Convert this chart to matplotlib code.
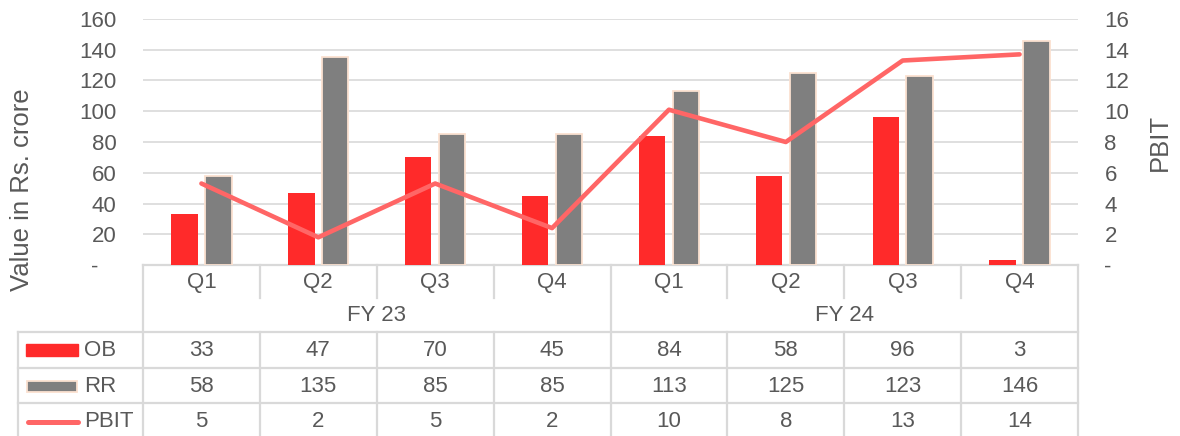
import numpy as np
import matplotlib.pyplot as plt
from matplotlib.patches import Rectangle
from matplotlib.ticker import FuncFormatter

plt.rcParams['font.family'] = ['Liberation Sans', 'DejaVu Sans']

# chart data
quarters = ['Q1', 'Q2', 'Q3', 'Q4', 'Q1', 'Q2', 'Q3', 'Q4']
years = ['FY 23', 'FY 24']
ob = [33, 47, 70, 45, 84, 58, 96, 3]
rr = [58, 135, 85, 85, 113, 125, 123, 146]
pbit = [5.3, 1.8, 5.3, 2.4, 10.1, 8.0, 13.3, 13.7]
pbit_table = [5, 2, 5, 2, 10, 8, 13, 14]

c_ob = '#FF2A2A'
c_rr = '#7F7F7F'
c_rr_edge = '#FBE1D0'
c_pbit = '#FF6666'
c_grid = '#D9D9D9'
c_text = '#595959'

W, H = 1180, 436
left, right, top, bottom = 143, 1078, 19, 265
n = len(quarters)
cw = (right - left) / n

fig = plt.figure(figsize=(W / 100, H / 100), dpi=100)

# overlay in pixel coordinates for the data table
ov = fig.add_axes([0, 0, 1, 1])
ov.set_xlim(0, W)
ov.set_ylim(H, 0)
ov.axis('off')

ax = fig.add_axes([left / W, 1 - bottom / H, (right - left) / W, (bottom - top) / H])
ax.patch.set_alpha(0)
x = np.arange(n)
ax.bar(x - 0.145, ob, 0.225, color=c_ob, zorder=2)
ax.bar(x + 0.145, rr, 0.225, color=c_rr, edgecolor=c_rr_edge, linewidth=1.3, zorder=2)
ax.set_xlim(-0.5, n - 0.5)
ax.set_ylim(0, 160)
ax.set_yticks(np.arange(0, 161, 20))
ax.set_xticks([])
ax.yaxis.grid(True, color=c_grid, linewidth=1.2)
ax.set_axisbelow(True)
for s in ax.spines.values():
    s.set_visible(False)
fmt = FuncFormatter(lambda v, p: '-   ' if v == 0 else f'{v:g}')
ax.yaxis.set_major_formatter(fmt)
ax.tick_params(axis='y', length=0, labelsize=16, labelcolor=c_text, pad=19)

ax2 = ax.twinx()
ax2.plot(x, pbit, color=c_pbit, linewidth=3.3, solid_capstyle='round', solid_joinstyle='round')
ax2.set_ylim(0, 16)
ax2.set_yticks(np.arange(0, 17, 2))
ax2.yaxis.set_major_formatter(FuncFormatter(lambda v, p: '-' if v == 0 else f'{v:g}'))
ax2.tick_params(axis='y', length=0, labelsize=16, labelcolor=c_text, pad=19)
for s in ax2.spines.values():
    s.set_visible(False)

fig.text(22 / W, 1 - 190 / H, 'Value in Rs. crore', rotation=90, ha='center', va='center',
         fontsize=18.5, color=c_text)
fig.text(1160 / W, 1 - 142 / H, 'PBIT', rotation=90, ha='center', va='center',
         fontsize=18.5, color=c_text)

# table grid
lw = 1.6
q_bot, fy_bot = 298, 332
rows = [332, 368, 403, 436]
ov.plot([left, right], [bottom, bottom], color=c_grid, lw=lw)
for r in rows[:-1]:
    ov.plot([18, right], [r, r], color=c_grid, lw=lw)
ov.plot([18, 18], [rows[0], H], color=c_grid, lw=lw)
for k in range(n + 1):
    xx = left + k * cw
    if k in (0, n, n // 2):
        ov.plot([xx, xx], [bottom, H], color=c_grid, lw=lw)
    else:
        ov.plot([xx, xx], [bottom, q_bot], color=c_grid, lw=lw)
        ov.plot([xx, xx], [fy_bot, H], color=c_grid, lw=lw)

# table text
tk = dict(ha='center', va='center', fontsize=16, color=c_text)
for i, q in enumerate(quarters):
    xc = left + (i + 0.5) * cw
    ov.text(xc, 282, q, **tk)
    ov.text(xc, 350, str(ob[i]), **tk)
    ov.text(xc, 386, str(rr[i]), **tk)
    ov.text(xc, 421, str(pbit_table[i]), **tk)
half = n // len(years)
for j, yl in enumerate(years):
    ov.text(left + (j + 0.5) * half * cw, 315, yl, **tk)

# legend keys
row_mid = [350, 386, 421]
ov.add_patch(Rectangle((26, row_mid[0] - 6), 52, 12, color=c_ob))
ov.add_patch(Rectangle((27, row_mid[1] - 5.5), 50, 11, facecolor=c_rr, edgecolor=c_rr_edge, lw=1.3))
ov.plot([28, 78], [row_mid[2] + 1, row_mid[2] + 1], color=c_pbit, lw=3.6, solid_capstyle='round')
for lab, ym in zip(['OB', 'RR', 'PBIT'], row_mid):
    ov.text(84, ym, lab, ha='left', va='center', fontsize=16, color=c_text)

fig.savefig('out.png', dpi=100)
